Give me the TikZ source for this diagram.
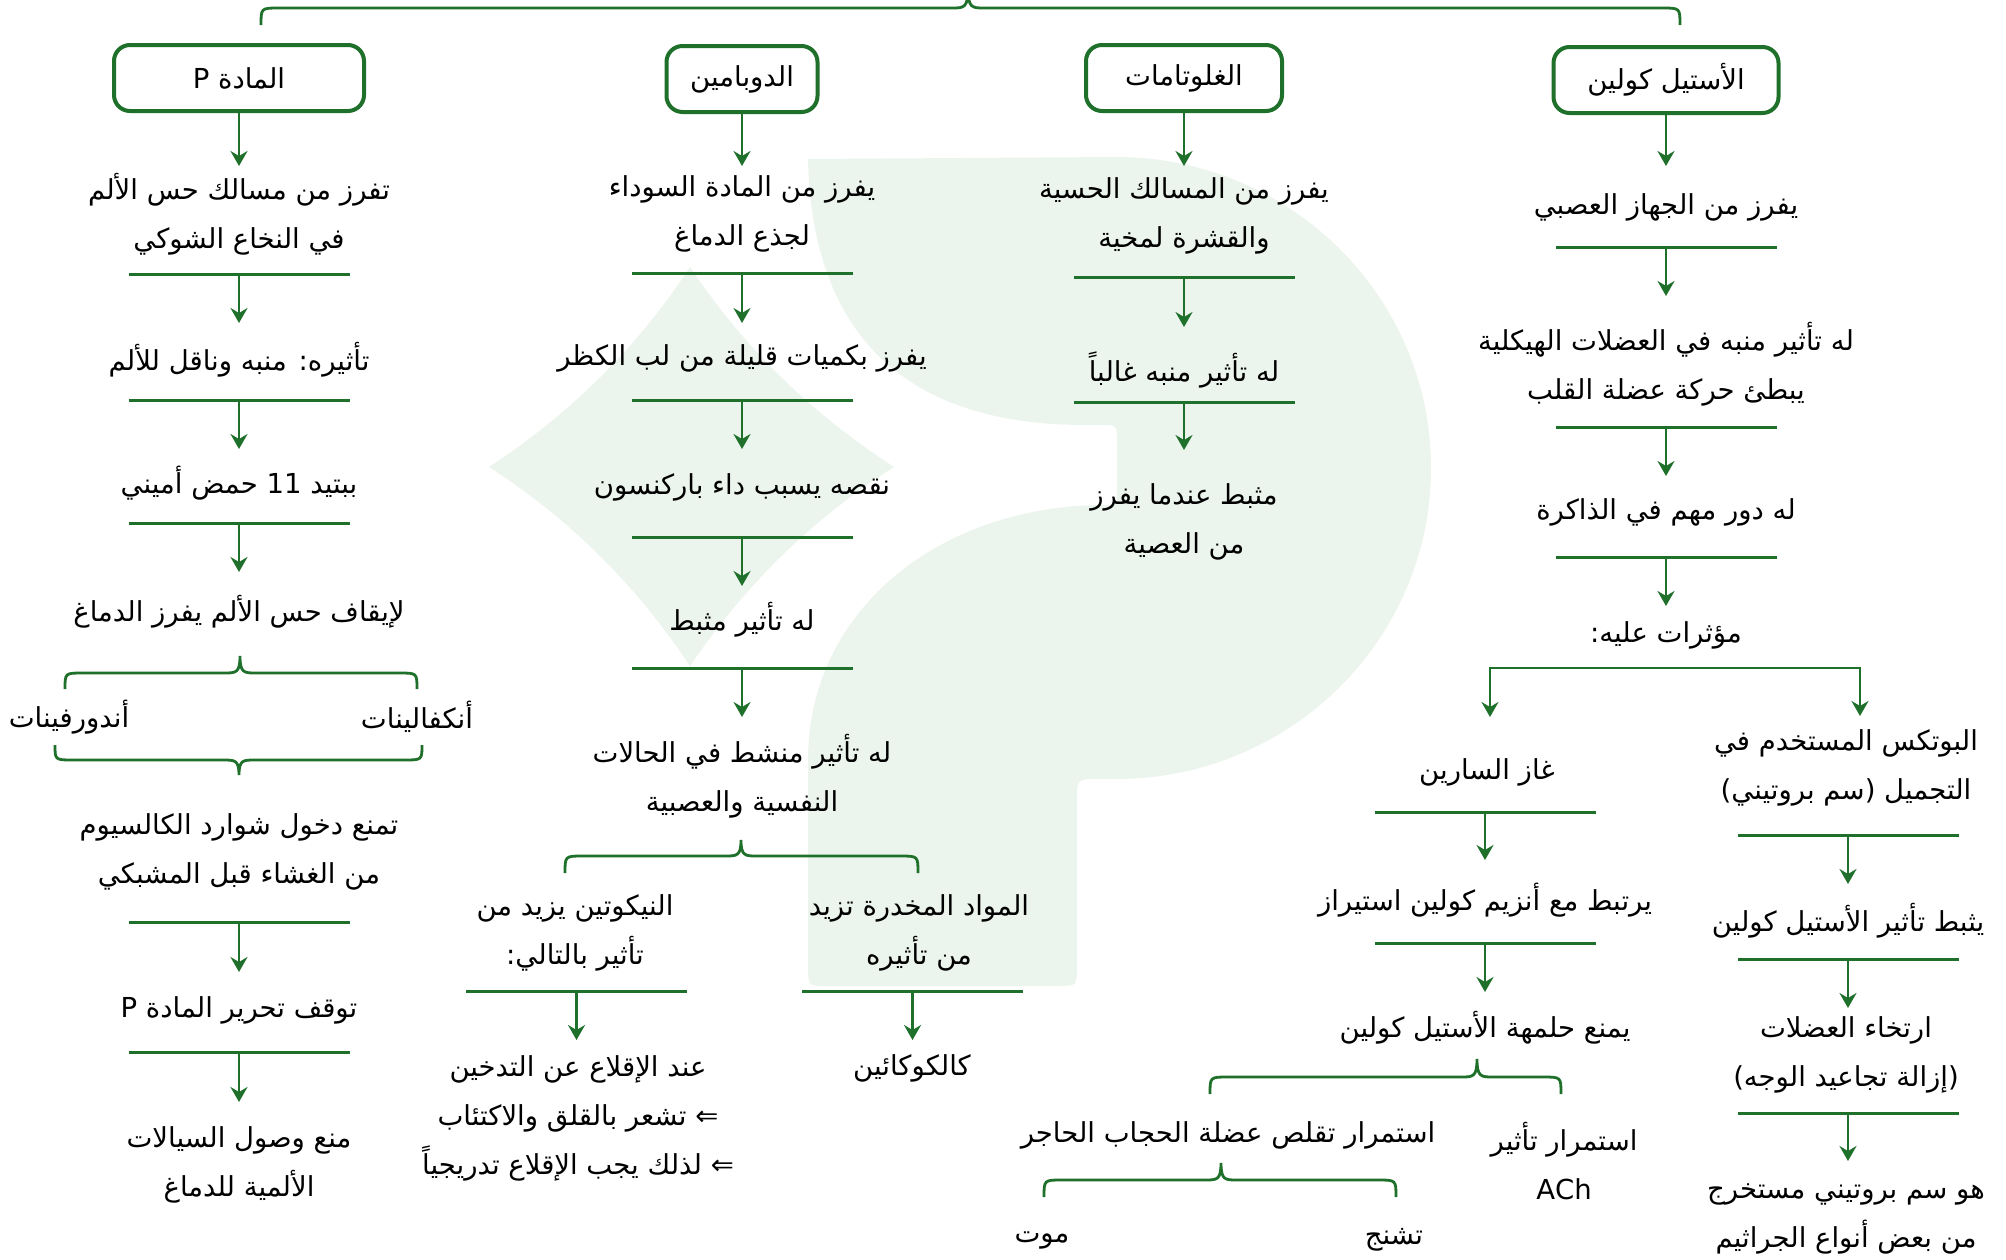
\documentclass[tikz,border=0pt]{standalone}
\usepackage{fontspec}
\setmainfont{DejaVu Sans}
\newfontfamily\arabicfont[Script=Arabic]{DejaVu Sans}
\TeXXeTstate=1
\usetikzlibrary{arrows.meta}
\definecolor{grn}{RGB}{30,112,42}
\definecolor{bgl}{RGB}{236,245,237}
% one right-to-left line
\newcommand\ar[1]{\beginR #1\endR}
% horizontal rule under a step, with a named midpoint
\newcommand\sepat[3]{\coordinate (#1) at (#2,#3); \draw[sepl] (#2-110.5,#3) -- (#2+110.5,#3);}
% arrow from #1 to a new coordinate #2 placed at (#3,#4)
\newcommand\flow[4]{\coordinate (#2) at (#3,#4); \draw[arr] (#1) -- (#2);}
% curly brace: ends x #1,#2 at y #4, bar at y #5, tip at (#3,#6)
\newcommand\curlybr[6]{\draw[brc] (#1,#4) .. controls (#1,#5) .. (#1+18,#5) -- (#3-16,#5)
  .. controls (#3-4,#5) and (#3,#5) .. (#3,#6) .. controls (#3,#5) and (#3+4,#5) .. (#3+16,#5)
  -- (#2-18,#5) .. controls (#2,#5) .. (#2,#4);}

\begin{document}
\begin{tikzpicture}[x=1pt,y=-1pt,
  txt/.style={font=\arabicfont\fontsize{27.5}{49}\selectfont, align=center, inner sep=0pt},
  hdr/.style={draw=grn, line width=4pt, rounded corners=16pt, minimum height=66pt, inner sep=0pt,
    font=\arabicfont\fontsize{27.5}{30}\selectfont},
  arr/.style={draw=grn, line width=2.6pt, -{Stealth[length=15pt,width=17pt,inset=5pt]}},
  sepl/.style={draw=grn, line width=3pt},
  brc/.style={draw=grn, line width=2.8pt}]

\useasboundingbox (0,0) rectangle (2006,1259);
\fill[white] (0,0) rectangle (2006,1259);

% faint logo in the background: four-pointed star
\fill[bgl] (489,467) .. controls (570,414) and (637,348) .. (690,267)
  .. controls (744,348) and (812,414) .. (894,467)
  .. controls (812,519) and (744,586) .. (690,666)
  .. controls (637,586) and (570,519) .. (489,467) -- cycle;
% faint logo in the background: the hooked letter
\fill[bgl] (808,159) -- (1116,157)
  arc[start angle=-90, end angle=90, x radius=315, y radius=311]
  -- (1100,779) .. controls (1077,779) .. (1077,800) -- (1077,966)
  .. controls (1077,986) .. (1057,986) -- (828,986) .. controls (808,986) .. (808,966)
  -- (808,760) .. controls (808,610) and (940,505) .. (1105,505)
  .. controls (1117,505) .. (1117,493) -- (1117,440) .. controls (1117,425) .. (1100,425)
  -- (1080,425) .. controls (900,423) and (812,330) .. (808,159) -- cycle;

% top brace joining the four substances
\curlybr{261}{1680}{968}{25}{8}{-12}

% headers
\node[hdr, minimum width=250pt] (hP) at (239,78) {\ar{المادة P}};
\node[hdr, minimum width=151pt] (hD) at (742,79) {\ar{الدوبامين}};
\node[hdr, minimum width=196pt] (hG) at (1184,78) {\ar{الغلوتامات}};
\node[hdr, minimum width=225pt] (hA) at (1666,80) {\ar{الأستيل كولين}};

% ---- substance P
\flow{hP}{p1t}{239}{166}
\node[txt] (p1) at (239,214) {\ar{تفرز من مسالك حس الألم}\\\ar{في النخاع الشوكي}};
\sepat{p1s}{239}{274}
\flow{p1s}{p2t}{239}{323}
\node[txt] (p2) at (239,360) {\ar{تأثيره: منبه وناقل للألم}};
\sepat{p2s}{239}{400}
\flow{p2s}{p3t}{239}{449}
\node[txt] (p3) at (239,483) {\ar{ببتيد 11 حمض أميني}};
\sepat{p3s}{239}{523}
\flow{p3s}{p4t}{239}{572}
\node[txt] (p4) at (239,612) {\ar{لإيقاف حس الألم يفرز الدماغ}};
\curlybr{65}{417}{240}{689}{673}{656}
\node[txt] (p5a) at (417,717) {\ar{أنكفالينات}};
\node[txt] (p5b) at (69,717) {\ar{أندورفينات}};
\curlybr{55}{422}{239}{745}{760}{775}
\node[txt] (p6) at (239,852) {\ar{تمنع دخول شوارد الكالسيوم}\\\ar{من الغشاء قبل المشبكي}};
\sepat{p6s}{239}{922}
\flow{p6s}{p7t}{239}{972}
\node[txt] (p7) at (239,1010) {\ar{توقف تحرير المادة P}};
\sepat{p7s}{239}{1052}
\flow{p7s}{p8t}{239}{1102}
\node[txt] (p8) at (239,1165) {\ar{منع وصول السيالات}\\\ar{الألمية للدماغ}};

% ---- dopamine
\flow{hD}{d1t}{742}{166}
\node[txt] (d1) at (742,214) {\ar{يفرز من المادة السوداء}\\\ar{لجذع الدماغ}};
\sepat{d1s}{742}{273}
\flow{d1s}{d2t}{742}{323}
\node[txt] (d2) at (742,358) {\ar{يفرز بكميات قليلة من لب الكظر}};
\sepat{d2s}{742}{400}
\flow{d2s}{d3t}{742}{449}
\node[txt] (d3) at (742,487) {\ar{نقصه يسبب داء باركنسون}};
\sepat{d3s}{742}{537}
\flow{d3s}{d4t}{742}{586}
\node[txt] (d4) at (742,620) {\ar{له تأثير مثبط}};
\sepat{d4s}{742}{668}
\flow{d4s}{d5t}{742}{717}
\node[txt] (d5) at (742,776) {\ar{له تأثير منشط في الحالات}\\\ar{النفسية والعصبية}};
\curlybr{565}{918}{741}{873}{856}{840}
\node[txt] (d6) at (575,933) {\ar{النيكوتين يزيد من}\\\ar{تأثير بالتالي:}};
\node[txt] (d7) at (919,933) {\ar{المواد المخدرة تزيد}\\\ar{من تأثيره}};
\sepat{d6s}{576.5}{991}
\sepat{d7s}{912.5}{991}
\flow{d6s}{d8t}{576.5}{1040}
\flow{d7s}{d9t}{912.5}{1040}
\node[txt] (d8) at (578,1118) {\ar{عند الإقلاع عن التدخين}\\\ar{⇐ تشعر بالقلق والاكتئاب}\\\ar{⇐ لذلك يجب الإقلاع تدريجياً}};
\node[txt] (d9) at (912,1068) {\ar{كالكوكائين}};

% ---- glutamate
\flow{hG}{g1t}{1184}{166}
\node[txt] (g1) at (1184,216) {\ar{يفرز من المسالك الحسية}\\\ar{والقشرة لمخية}};
\sepat{g1s}{1184}{277}
\flow{g1s}{g2t}{1184}{327}
\node[txt] (g2) at (1184,370) {\ar{له تأثير منبه غالباً}};
\sepat{g2s}{1184}{402}
\flow{g2s}{g3t}{1184}{450}
\node[txt] (g3) at (1184,522) {\ar{مثبط عندما يفرز}\\\ar{من العصية}};

% ---- acetylcholine
\flow{hA}{a1t}{1666}{166}
\node[txt] (a1) at (1666,207) {\ar{يفرز من الجهاز العصبي}};
\sepat{a1s}{1666}{247}
\flow{a1s}{a2t}{1666}{296}
\node[txt] (a2) at (1666,364) {\ar{له تأثير منبه في العضلات الهيكلية}\\\ar{يبطئ حركة عضلة القلب}};
\sepat{a2s}{1666}{427}
\flow{a2s}{a3t}{1666}{476}
\node[txt] (a3) at (1666,512) {\ar{له دور مهم في الذاكرة}};
\sepat{a3s}{1666}{557}
\flow{a3s}{a4t}{1666}{606}
\node[txt] (a4) at (1666,635) {\ar{مؤثرات عليه:}};
\coordinate (split) at (1666,668);
\coordinate (s1t) at (1490,717);
\coordinate (b1t) at (1860,716);
\draw[arr] (split) -| (s1t);
\draw[arr] (split) -| (b1t);

% sarin branch
\node[txt] (s1) at (1487,772) {\ar{غاز السارين}};
\sepat{s1s}{1485}{812}
\flow{s1s}{s2t}{1485}{860}
\node[txt] (s2) at (1485,900) {\ar{يرتبط مع أنزيم كولين استيراز}};
\sepat{s2s}{1485}{943}
\flow{s2s}{s3t}{1485}{992}
\node[txt] (s3) at (1485,1028) {\ar{يمنع حلمهة الأستيل كولين}};
\curlybr{1210}{1561}{1477}{1094}{1077}{1059}
\node[txt] (s4) at (1228,1135) {\ar{استمرار تقلص عضلة الحجاب الحاجر}};
\node[txt] (s5) at (1564,1161) {\ar{استمرار تأثير}\\ACh};
\curlybr{1044}{1396}{1221}{1197}{1180}{1163}
\node[txt] (s6) at (1042,1240) {\ar{موت}};
\node[txt] (s7) at (1394,1240) {\ar{تشنج}};

% botox branch
\node[txt] (b1) at (1846,768) {\ar{البوتكس المستخدم في}\\\ar{التجميل (سم بروتيني)}};
\sepat{b1s}{1848}{835}
\flow{b1s}{b2t}{1848}{884}
\node[txt] (b2) at (1848,921) {\ar{يثبط تأثير الأستيل كولين}};
\sepat{b2s}{1848}{959}
\flow{b2s}{b3t}{1848}{1008}
\node[txt] (b3) at (1846,1055) {\ar{ارتخاء العضلات}\\\ar{(إزالة تجاعيد الوجه)}};
\sepat{b3s}{1848}{1113}
\flow{b3s}{b4t}{1848}{1161}
\node[txt] (b4) at (1846,1219) {\ar{هو سم بروتيني مستخرج}\\\ar{من بعض أنواع الجراثيم}};
\end{tikzpicture}
\end{document}
